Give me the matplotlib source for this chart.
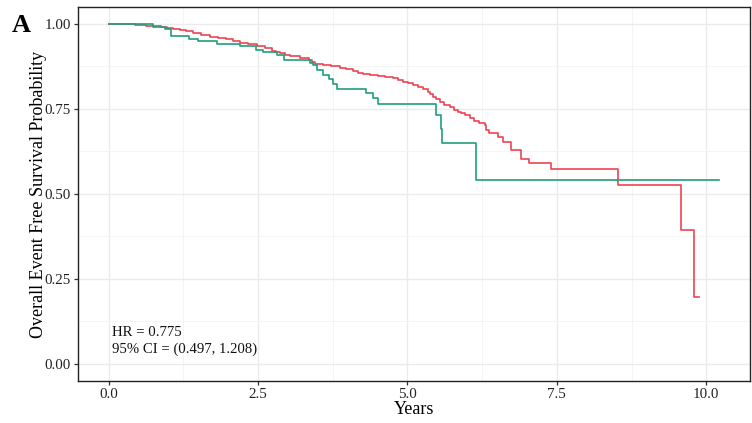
import matplotlib
matplotlib.use("Agg")
import matplotlib.pyplot as plt
from matplotlib.ticker import MultipleLocator

# Kaplan-Meier step points (time in years, survival)
red_time = [0.0, 0.44, 0.62, 0.78, 0.88, 0.97, 1.08, 1.19, 1.30, 1.42, 1.55, 1.70, 1.83,
            1.97, 2.08, 2.20, 2.34, 2.48, 2.61, 2.73, 2.80, 2.87, 2.95, 3.03, 3.20, 3.36,
            3.40, 3.45, 3.59, 3.73, 3.87, 3.98, 4.09, 4.17, 4.26, 4.38, 4.50, 4.63, 4.76,
            4.85, 4.93, 5.01, 5.09, 5.18, 5.26, 5.34, 5.38, 5.42, 5.48, 5.54, 5.62, 5.71,
            5.78, 5.84, 5.90, 5.96, 6.04, 6.12, 6.20, 6.29, 6.32, 6.37, 6.51, 6.60, 6.74,
            6.90, 7.04, 7.41, 8.52, 9.58, 9.79, 9.87]
red_surv = [1.000, 0.9965, 0.9950, 0.9927, 0.9905, 0.9877, 0.9845, 0.981, 0.978, 0.974,
            0.969, 0.963, 0.959, 0.955, 0.950, 0.945, 0.940, 0.934, 0.928, 0.922, 0.918,
            0.914, 0.910, 0.905, 0.900, 0.895, 0.889, 0.883, 0.878, 0.875, 0.872, 0.867,
            0.862, 0.857, 0.852, 0.849, 0.846, 0.843, 0.840, 0.835, 0.830, 0.826, 0.822,
            0.816, 0.810, 0.800, 0.793, 0.786, 0.778, 0.771, 0.761, 0.755, 0.748, 0.742,
            0.737, 0.732, 0.723, 0.715, 0.709, 0.703, 0.688, 0.678, 0.667, 0.652, 0.629,
            0.602, 0.591, 0.573, 0.525, 0.393, 0.197, 0.197]

green_time = [0.0, 0.74, 0.94, 1.04, 1.345, 1.49, 1.81, 2.20, 2.46, 2.59, 2.82, 2.93, 3.37,
              3.42, 3.48, 3.58, 3.69, 3.75, 3.82, 4.30, 4.42, 4.51, 5.48, 5.56, 5.58, 6.15,
              10.22]
green_surv = [1.000, 0.9906, 0.9839, 0.964, 0.957, 0.949, 0.942, 0.935, 0.924, 0.919, 0.908,
              0.895, 0.886, 0.878, 0.864, 0.851, 0.838, 0.824, 0.810, 0.796, 0.781, 0.766,
              0.732, 0.691, 0.649, 0.540, 0.540]

y_ticks = [0.0, 0.25, 0.5, 0.75, 1.0]
x_ticks = [0.0, 2.5, 5.0, 7.5, 10.0]
hr_text = "HR = 0.775\n95% CI = (0.497, 1.208)"

plt.rcParams["font.family"] = ["Liberation Serif", "DejaVu Serif"]

fig = plt.figure(figsize=(7.52, 4.23), dpi=100)
ax = fig.add_axes([0.1037, 0.0993, 0.8936, 0.8842])

ax.step(red_time, red_surv, where="post", color="#EB4450", linewidth=1.2, zorder=3)
ax.step(green_time, green_surv, where="post", color="#1FA07A", linewidth=1.2, zorder=3)

ax.set_xlim(-0.511, 10.731)
ax.set_ylim(-0.05, 1.05)
ax.set_xticks(x_ticks)
ax.set_xticklabels([f"{v:.1f}" for v in x_ticks])
ax.set_yticks(y_ticks)
ax.set_yticklabels([f"{v:.2f}" for v in y_ticks])
ax.xaxis.set_minor_locator(MultipleLocator(1.25))
ax.yaxis.set_minor_locator(MultipleLocator(0.125))

ax.grid(which="major", color="#EBEBEB", linewidth=1.0, zorder=0)
ax.grid(which="minor", color="#F3F3F3", linewidth=0.6, zorder=0)
ax.set_axisbelow(True)
for s in ax.spines.values():
    s.set_color("#222222")
    s.set_linewidth(1.0)
ax.tick_params(which="major", length=3, width=0.9, color="#333333",
               labelsize=10.8, labelcolor="#222222", pad=2)
ax.tick_params(which="minor", length=0)

ax.set_xlabel("Years", fontsize=13, labelpad=0)
ax.set_ylabel("Overall Event Free Survival Probability", fontsize=13, labelpad=-2)

ax.text(0.06, 0.068, hr_text, fontsize=10.6, ha="left", va="center",
        linespacing=1.3, color="#111111")

fig.text(0.015, 0.94, "A", fontsize=19, fontweight="bold", ha="left", va="center")

fig.savefig("out.png", dpi=100)
